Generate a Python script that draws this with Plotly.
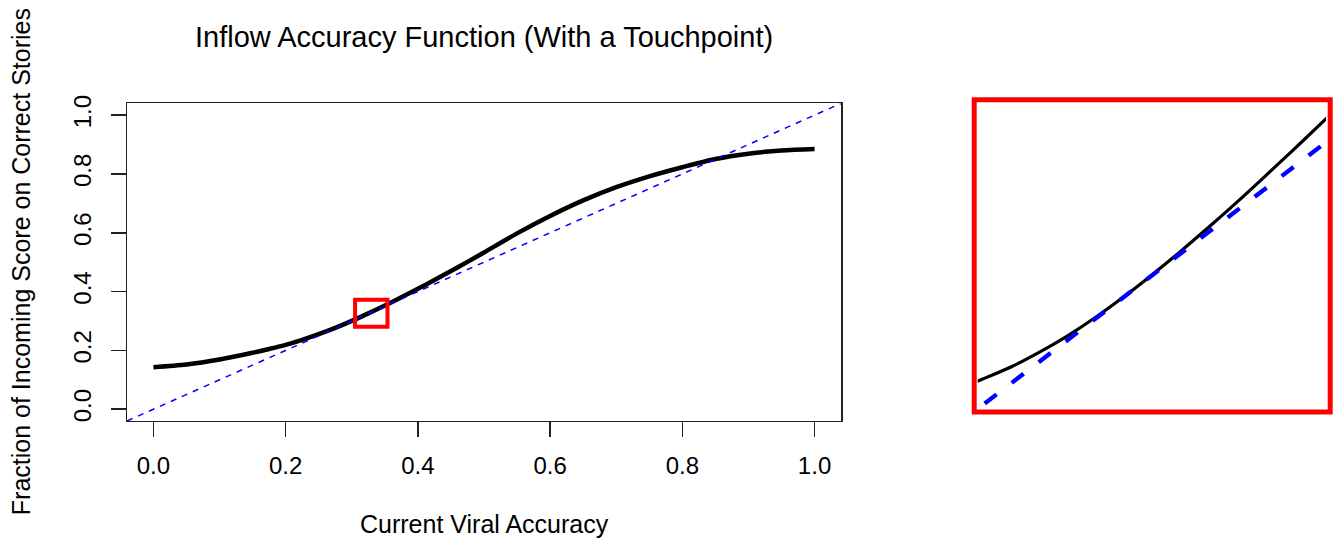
import plotly.graph_objects as go

# ---- data ----
accuracy = [0.00, 0.05, 0.10, 0.15, 0.175, 0.20, 0.225, 0.25, 0.275, 0.30, 0.325,
            0.35, 0.375, 0.40, 0.425, 0.45, 0.475, 0.50, 0.55, 0.60, 0.65, 0.70,
            0.75, 0.80, 0.85, 0.90, 0.95, 1.00]
inflow = [0.143, 0.152, 0.169, 0.192, 0.205, 0.219, 0.236, 0.255, 0.2765, 0.3003, 0.3258,
          0.3525, 0.3805, 0.4095, 0.4395, 0.470, 0.501, 0.533, 0.598, 0.657, 0.710, 0.755,
          0.792, 0.823, 0.851, 0.869, 0.880, 0.885]
diag = [-0.04, 1.04]                       # reference line y = x
tick_vals = [0.0, 0.2, 0.4, 0.6, 0.8, 1.0]
tick_text = ["0.0", "0.2", "0.4", "0.6", "0.8", "1.0"]
zoom_box_x = [0.305, 0.354]
zoom_box_y = [0.2805, 0.3726]
main_range = [-0.04, 1.04]
inset_x_range = [0.17, 0.48]
inset_y_range = [0.17, 0.5255]

title_text = "Inflow Accuracy Function (With a Touchpoint)"
x_title = "Current Viral Accuracy"
y_title = "Fraction of Incoming Score on Correct Stories"

W, H = 1340, 539
FONT = "Liberation Sans, Arial, Helvetica, sans-serif"


def px(v):
    return v / W


def py(v):
    return 1 - v / H


fig = go.Figure()

# main panel
fig.add_trace(go.Scatter(x=accuracy, y=inflow, mode="lines",
                         line=dict(color="black", width=4.5, shape="spline", smoothing=0.8),
                         xaxis="x", yaxis="y", hoverinfo="skip"))
fig.add_trace(go.Scatter(x=diag, y=diag, mode="lines",
                         line=dict(color="#0000FF", width=1.5, dash="6px,6px"),
                         xaxis="x", yaxis="y", hoverinfo="skip"))

# inset (zoomed view)
fig.add_trace(go.Scatter(x=accuracy, y=inflow, mode="lines",
                         line=dict(color="black", width=3.2, shape="spline", smoothing=0.8),
                         xaxis="x2", yaxis="y2", hoverinfo="skip"))
fig.add_trace(go.Scatter(x=diag, y=diag, mode="lines",
                         line=dict(color="#0000FF", width=4.3, dash="15px,19px"),
                         xaxis="x2", yaxis="y2", hoverinfo="skip"))

axis_common = dict(
    range=main_range, tickvals=tick_vals, ticktext=tick_text,
    ticks="outside", ticklen=15, tickwidth=1.5, tickcolor="#222222",
    showline=True, mirror=True, linecolor="#222222", linewidth=1.5,
    showgrid=False, zeroline=False,
    tickfont=dict(family=FONT, size=24, color="black"),
)

fig.update_layout(
    width=W, height=H,
    margin=dict(l=0, r=0, t=0, b=0),
    paper_bgcolor="white", plot_bgcolor="white",
    showlegend=False,
    xaxis=dict(domain=[px(127), px(841)], anchor="y", ticklabelstandoff=8, **axis_common),
    yaxis=dict(domain=[py(420), py(97)], anchor="x", tickangle=-90, ticklabelstandoff=10,
               **axis_common),
    xaxis2=dict(domain=[px(977.7), px(1326)], range=inset_x_range, anchor="y2", visible=False),
    yaxis2=dict(domain=[py(407.7), py(96.7)], range=inset_y_range, anchor="x2", visible=False),
    shapes=[
        dict(type="rect", xref="x", yref="y",
             x0=zoom_box_x[0], x1=zoom_box_x[1], y0=zoom_box_y[0], y1=zoom_box_y[1],
             line=dict(color="#FF0000", width=4), layer="above"),
        dict(type="rect", xref="paper", yref="paper",
             x0=px(974.2), x1=px(1330.2), y0=py(410.8), y1=py(93.2),
             line=dict(color="#FF0000", width=5), layer="above"),
    ],
    annotations=[
        dict(text=title_text, xref="paper", yref="paper", x=px(484), y=py(29),
             xanchor="center", yanchor="middle", showarrow=False,
             font=dict(family=FONT, size=29, color="black")),
        dict(text=x_title, xref="paper", yref="paper", x=px(484), y=py(525),
             xanchor="center", yanchor="middle", showarrow=False,
             font=dict(family=FONT, size=25, color="black")),
        dict(text=y_title, xref="paper", yref="paper", x=px(21), y=py(258.5),
             xanchor="center", yanchor="middle", showarrow=False, textangle=-90,
             font=dict(family=FONT, size=25, color="black")),
    ],
)

fig.write_html("out.html",
               config={"displayModeBar": False, "staticPlot": True},
               post_script="document.body.style.margin='0';document.body.style.overflow='hidden';")
